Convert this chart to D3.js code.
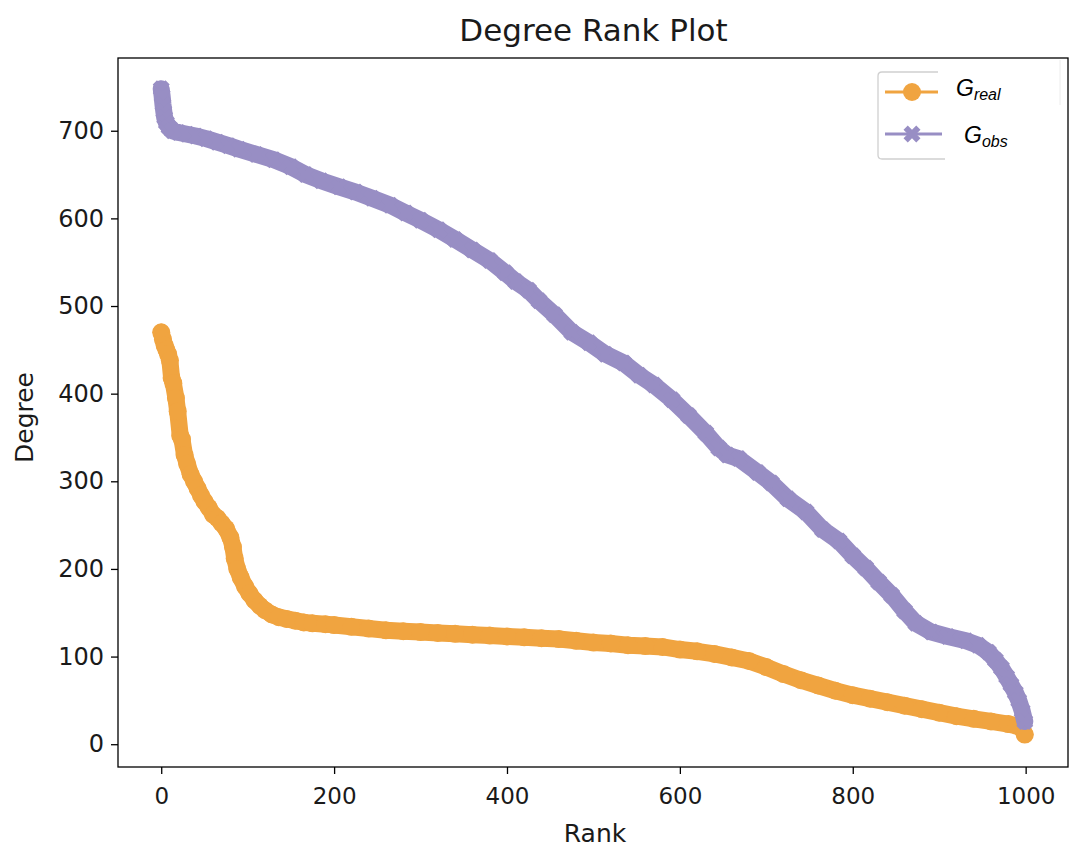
<!DOCTYPE html>
<html>
<head>
<meta charset="utf-8">
<script src="https://cdn.jsdelivr.net/npm/d3@7"></script>
<style>
  html, body { margin: 0; padding: 0; background: #fff; }
  svg { display: block; }
</style>
</head>
<body>
<svg id="chart" width="1071" height="847"></svg>
<script>
// ---- data ----
const realRanks = [0,2,4,6,8,10,12,14,17,19,22,24,27,30,34,38,42,46,50,55,60,65,70,75,80,83,85,88,92,97,102,108,114,120,128,136,145,155,165,175,190,200,220,240,260,280,300,320,340,360,380,400,420,440,460,480,500,520,540,560,580,600,620,640,660,680,700,720,740,760,780,800,820,840,860,880,900,920,940,960,980,990,995,999];
const realDegrees = [470,462,455,450,445,438,418,412,395,380,352,348,330,320,308,300,292,284,277,270,262,258,252,246,236,225,212,200,190,180,172,164,158,153,148,145,143,141,139,138,137,136,134,132,130,129,128,127,126,125,124,123,122,121,120,118,116,115,113,112,111,108,106,103,99,95,88,80,73,67,61,56,52,48,44,40,36,32,29,26,23,21,19,11];

const obsRanks = [0,1,2,3,4,6,9,13,20,30,40,52,65,78,90,110,130,150,167,185,206,225,244,265,283,300,321,340,360,380,398,410,425,437,455,475,495,514,535,553,570,591,610,630,645,655,668,690,706,725,746,765,784,800,815,830,845,860,873,891,910,931,945,957,965,972,978,983,988,992,996,999];
const obsDegrees = [748,740,730,722,715,709,704,700,698,696,694,691,687,683,679,673,667,659,650,643,636,630,623,615,606,598,587,576,564,552,538,528,518,506,490,470,458,445,435,421,410,393,375,355,338,330,326,310,298,280,265,245,232,215,201,185,170,152,138,128,123,118,113,105,96,87,77,68,59,50,38,26];

const xTicks = [0, 200, 400, 600, 800, 1000];
const yTicks = [0, 100, 200, 300, 400, 500, 600, 700];
const seriesNames = ["real", "obs"];

const orange = "#F0A440";
const purple = "#988EC4";

// ---- layout ----
const svg = d3.select("#chart");
const L = 118, R = 1068, T = 58, B = 767;

const x = d3.scaleLinear().domain([-50, 1049]).range([L, R]);
const y = d3.scaleLinear().domain([-26, 783]).range([B, T]);

const font = "'DejaVu Sans', sans-serif";

// title
svg.append("text")
  .attr("x", (L + R) / 2 + 0.5).attr("y", 41)
  .attr("text-anchor", "middle")
  .attr("font-family", font).attr("font-size", 31)
  .attr("fill", "#1a1a1a")
  .text("Degree Rank Plot");

const plot = svg.append("g");

function drawSeries(ranks, degs, color, marker, band) {
  const pts = ranks.map((r, i) => [r, degs[i]]);
  // densely packed markers in the original form a solid band
  plot.append("path")
    .datum(pts)
    .attr("fill", "none")
    .attr("stroke", color)
    .attr("stroke-width", band)
    .attr("stroke-linejoin", "round")
    .attr("stroke-linecap", "round")
    .attr("d", d3.line().x(d => x(d[0])).y(d => y(d[1])));
  const g = plot.append("g");
  pts.forEach(d => {
    g.append("path")
      .attr("d", marker)
      .attr("transform", `translate(${x(d[0])},${y(d[1])})`)
      .attr("fill", color);
  });
}

const circlePath = d3.symbol().type(d3.symbolCircle).size(Math.PI * 9 * 9)();
const xs = 17;
const xFilled = [[-1,-2],[0,-1],[1,-2],[2,-1],[1,0],[2,1],[1,2],[0,1],[-1,2],[-2,1],[-1,0],[-2,-1]]
  .map(p => [p[0] / 4 * xs, p[1] / 4 * xs]);
const xPath = "M" + xFilled.map(p => p.join(",")).join("L") + "Z";

drawSeries(realRanks, realDegrees, orange, circlePath, 17);
drawSeries(obsRanks, obsDegrees, purple, xPath, 17);

// axes frame
svg.append("rect")
  .attr("x", L).attr("y", T).attr("width", R - L).attr("height", B - T)
  .attr("fill", "none").attr("stroke", "#000").attr("stroke-width", 1.3);

// x axis
const xAxis = svg.append("g")
  .attr("transform", `translate(0,${B})`)
  .call(d3.axisBottom(x).tickValues(xTicks).tickSize(7).tickPadding(14).tickFormat(d3.format("d")));
xAxis.select(".domain").remove();
xAxis.selectAll("line").attr("stroke", "#000").attr("stroke-width", 1.3);
xAxis.selectAll("text").attr("font-family", font).attr("font-size", 23).attr("fill", "#1a1a1a");

// y axis
const yAxis = svg.append("g")
  .attr("transform", `translate(${L},0)`)
  .call(d3.axisLeft(y).tickValues(yTicks).tickSize(7).tickPadding(7).tickFormat(d3.format("d")));
yAxis.select(".domain").remove();
yAxis.selectAll("line").attr("stroke", "#000").attr("stroke-width", 1.3);
yAxis.selectAll("text").attr("font-family", font).attr("font-size", 24).attr("fill", "#1a1a1a");

// axis labels
svg.append("text")
  .attr("x", (L + R) / 2 + 2).attr("y", 842)
  .attr("text-anchor", "middle")
  .attr("font-family", font).attr("font-size", 25).attr("fill", "#1a1a1a")
  .text("Rank");
svg.append("text")
  .attr("transform", `translate(33,${(T + B) / 2 + 5}) rotate(-90)`)
  .attr("text-anchor", "middle")
  .attr("font-family", font).attr("font-size", 25).attr("fill", "#1a1a1a")
  .text("Degree");

// legend
const lg = svg.append("g");
const lgL = 878, lgT = 72, lgB = 159;
lg.append("path")
  .attr("d", `M938,${lgT} L${lgL + 4},${lgT} Q${lgL},${lgT} ${lgL},${lgT + 4} L${lgL},${lgB - 4} Q${lgL},${lgB} ${lgL + 4},${lgB} L945,${lgB}`)
  .attr("fill", "none").attr("stroke", "#d0d0d0").attr("stroke-width", 1.3);
lg.append("line").attr("x1", 1060).attr("x2", 1060).attr("y1", 60).attr("y2", 105)
  .attr("stroke", "#ececec").attr("stroke-width", 1);

const entries = [
  { name: seriesNames[0], color: orange, marker: circlePath, y: 92, lineEnd: 938, tx: 956, ty: 96 },
  { name: seriesNames[1], color: purple, marker: xPath, y: 134, lineEnd: 942, tx: 964, ty: 143 }
];
entries.forEach(e => {
  lg.append("line").attr("x1", 885).attr("x2", e.lineEnd).attr("y1", e.y).attr("y2", e.y)
    .attr("stroke", e.color).attr("stroke-width", 3);
  lg.append("path").attr("d", e.marker).attr("transform", `translate(912,${e.y})`).attr("fill", e.color);
  const t = lg.append("text")
    .attr("x", e.tx).attr("y", e.ty)
    .attr("font-family", "'Liberation Sans', Arial, sans-serif")
    .attr("font-style", "italic").attr("font-size", 23).attr("fill", "#000");
  t.append("tspan").text("G");
  t.append("tspan").attr("font-size", 16).attr("dy", 4).text(e.name);
});
</script>
</body>
</html>
